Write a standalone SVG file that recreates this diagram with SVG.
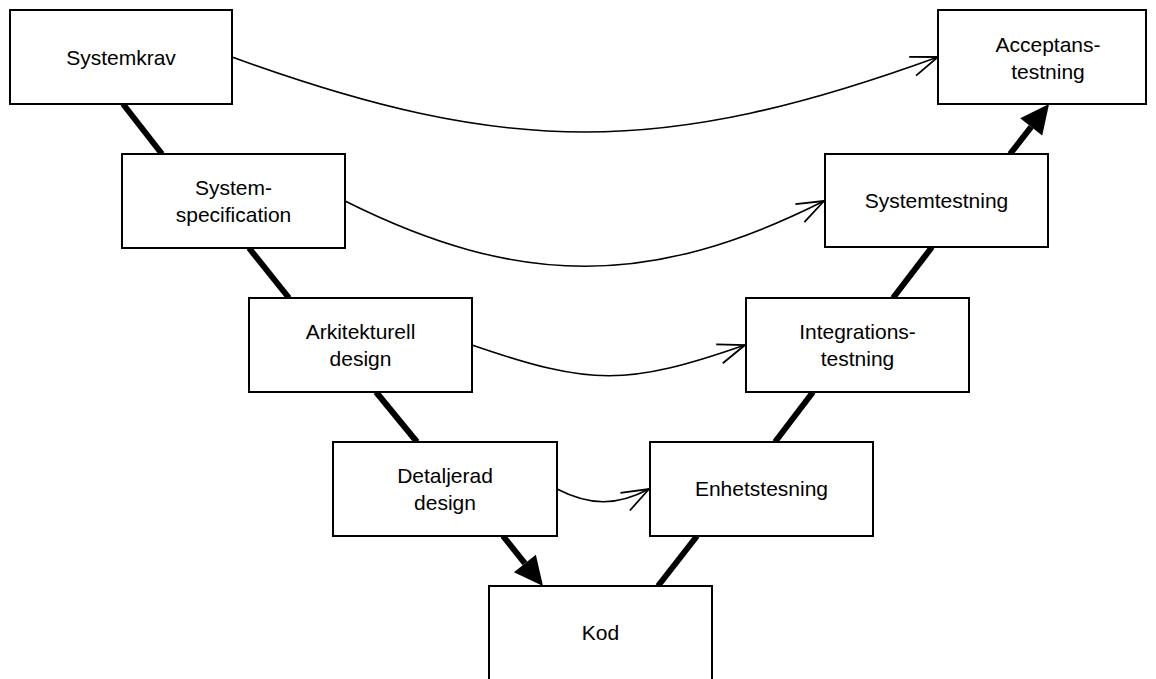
<svg xmlns="http://www.w3.org/2000/svg" width="1156" height="679" viewBox="0 0 1156 679">
<style>
.box{fill:#fff;stroke:#000;stroke-width:2}
.t{font-family:"Liberation Sans",Arial,sans-serif;font-size:21px;fill:#000;text-anchor:middle}
.thick{stroke:#000;stroke-width:6;fill:none}
.curve{stroke:#000;stroke-width:1.6;fill:none;marker-end:url(#open)}
</style>
<defs>
<marker id="open" markerUnits="userSpaceOnUse" markerWidth="40" markerHeight="30" refX="30" refY="15" orient="auto" overflow="visible">
<path d="M3,5 L30,15 L3,25" fill="none" stroke="#000" stroke-width="1.8"/>
</marker>
<marker id="solid" markerUnits="userSpaceOnUse" markerWidth="32" markerHeight="30" refX="0" refY="15" orient="auto" overflow="visible">
<path d="M0,1 L29,15 L0,29 Z" fill="#000"/>
</marker>
</defs>
<g id="connectors">
<line class="thick" x1="123" y1="104" x2="162" y2="154"/>
<line class="thick" x1="249" y1="248" x2="289" y2="298"/>
<line class="thick" x1="376" y1="392" x2="417" y2="442"/>
<line class="thick" x1="503" y1="536" x2="524.9" y2="563.4" marker-end="url(#solid)"/>
<line class="thick" x1="658" y1="586" x2="697" y2="536"/>
<line class="thick" x1="775" y1="442" x2="813" y2="392"/>
<line class="thick" x1="893" y1="298" x2="932" y2="247"/>
<line class="thick" x1="1010" y1="154" x2="1031.2" y2="126.9" marker-end="url(#solid)"/>
<path class="curve" d="M232,57 C507,157 663,157 938,57"/>
<path class="curve" d="M345,201 C519,288 651,288 824,201"/>
<path class="curve" d="M472,345 C591,386 627,386 745,345"/>
<path class="curve" d="M557,489 C590,506 617,506 649,489"/>
</g>
<g id="systemkrav"><rect class="box" x="10" y="10" width="222" height="94"/><text class="t" x="121" y="65">Systemkrav</text></g>
<g id="acceptanstestning"><rect class="box" x="938" y="10" width="208" height="94"/><text class="t" x="1048" y="52">Acceptans-</text><text class="t" x="1048" y="79">testning</text></g>
<g id="systemspecification"><rect class="box" x="122" y="154" width="223" height="94"/><text class="t" x="233.5" y="195">System-</text><text class="t" x="233.5" y="222">specification</text></g>
<g id="systemtestning"><rect class="box" x="825" y="154" width="223" height="93"/><text class="t" x="936.5" y="208">Systemtestning</text></g>
<g id="arkitekturell"><rect class="box" x="249" y="298" width="223" height="94"/><text class="t" x="360.5" y="339">Arkitekturell</text><text class="t" x="360.5" y="366">design</text></g>
<g id="integrationstestning"><rect class="box" x="746" y="298" width="223" height="94"/><text class="t" x="857.5" y="339">Integrations-</text><text class="t" x="857.5" y="366">testning</text></g>
<g id="detaljerad"><rect class="box" x="333" y="442" width="224" height="94"/><text class="t" x="445" y="483">Detaljerad</text><text class="t" x="445" y="510">design</text></g>
<g id="enhetstesning"><rect class="box" x="650" y="442" width="223" height="94"/><text class="t" x="761.5" y="496">Enhetstesning</text></g>
<g id="kod"><rect class="box" x="489" y="586" width="223" height="94"/><text class="t" x="600.5" y="640">Kod</text></g>
</svg>
